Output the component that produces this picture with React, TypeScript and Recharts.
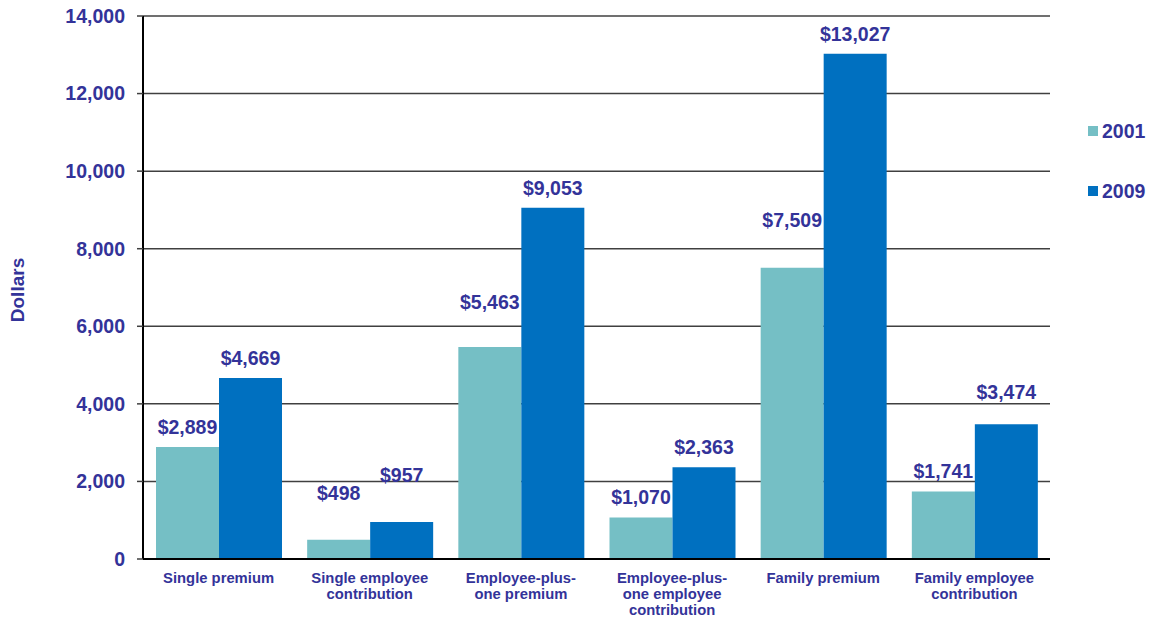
import { BarChart, Bar, XAxis, YAxis, CartesianGrid, LabelList, Legend } from "recharts";

// Categories (line breaks mark the wrapped tick labels)
const categories = [
  "Single premium",
  "Single employee\ncontribution",
  "Employee-plus-\none premium",
  "Employee-plus-\none employee\ncontribution",
  "Family premium",
  "Family employee\ncontribution",
];
const values2001 = [2889, 498, 5463, 1070, 7509, 1741];
const values2009 = [4669, 957, 9053, 2363, 13027, 3474];
const yTicks = [0, 2000, 4000, 6000, 8000, 10000, 12000, 14000];

const TEXT = "#333399";
const TEAL = "#75BFC5";
const BLUE = "#0070C0";
const FONT = "'Liberation Sans', Arial, sans-serif";

// extra lift for labels that sit higher in the original
const labelLift: Record<string, number[]> = {
  y2001: [0, 27, 25, 0, 28, 0],
  y2009: [0, 27, 0, 0, 0, 12],
};

const data = categories.map((name, i) => ({
  name,
  y2001: values2001[i],
  y2009: values2009[i],
}));

const CategoryTick = ({ x, y, payload }: any) => {
  const lines = String(payload.value).split("\n");
  return (
    <text x={x} y={y} textAnchor="middle" fill={TEXT} fontSize={14.8} fontWeight="bold" fontFamily={FONT}>
      {lines.map((l, i) => (
        <tspan key={i} x={x} dy={i === 0 ? 22 : 16}>
          {l}
        </tspan>
      ))}
    </text>
  );
};

const valueLabel = (key: string) => (props: any) => {
  const { x, y, width, value, index } = props;
  const lift = labelLift[key][index] ?? 0;
  return (
    <text
      x={x + width / 2}
      y={y - 13 - lift}
      textAnchor="middle"
      fill={TEXT}
      fontSize={19.5}
      fontWeight="bold"
      fontFamily={FONT}
    >
      ${Number(value).toLocaleString("en-US")}
    </text>
  );
};

const LegendBox = () => (
  <div style={{ display: "flex", flexDirection: "column", gap: 38, fontFamily: FONT }}>
    {[
      { label: "2001", color: TEAL },
      { label: "2009", color: BLUE },
    ].map((it) => (
      <div key={it.label} style={{ display: "flex", alignItems: "center", gap: 4 }}>
        <span style={{ width: 10, height: 10, background: it.color, display: "inline-block" }} />
        <span style={{ color: TEXT, fontSize: 19.5, fontWeight: "bold", lineHeight: "22px" }}>{it.label}</span>
      </div>
    ))}
  </div>
);

const DollarsLabel = () => (
  <text
    transform="translate(24,290) rotate(-90)"
    textAnchor="middle"
    fill={TEXT}
    fontSize={19}
    fontWeight="bold"
    fontFamily={FONT}
  >
    Dollars
  </text>
);

export default function App() {
  return (
    <div style={{ position: "absolute", left: 0, top: 0, background: "#fff" }}>
      <BarChart
        width={1151}
        height={618}
        data={data}
        margin={{ top: 16, right: 101, bottom: 0, left: 0 }}
        barGap={0}
        barSize={63}
      >
        <CartesianGrid horizontal vertical={false} stroke="#404040" strokeWidth={1.5} />
        <XAxis
          dataKey="name"
          height={59}
          tick={<CategoryTick />}
          tickLine={false}
          tickSize={0}
          interval={0}
          axisLine={{ stroke: "#000", strokeWidth: 2 }}
        />
        <YAxis
          width={143}
          domain={[0, 14000]}
          ticks={yTicks}
          tickFormatter={(v: number) => v.toLocaleString("en-US")}
          tick={{ fill: TEXT, fontSize: 19.5, fontWeight: "bold", fontFamily: FONT }}
          tickLine={{ stroke: "#404040", strokeWidth: 1.5 }}
          tickSize={6}
          tickMargin={12}
          axisLine={{ stroke: "#000", strokeWidth: 2 }}
          label={<DollarsLabel />}
        />
        <YAxis
          yAxisId="frame"
          orientation="right"
          width={0}
          tick={false}
          tickLine={false}
          axisLine={{ stroke: "#000", strokeWidth: 2 }}
        />
        <Legend
          layout="vertical"
          align="center"
          verticalAlign="middle"
          content={<LegendBox />}
          wrapperStyle={{ position: "absolute", left: 1088, top: 120, width: 70 }}
        />
        <Bar dataKey="y2001" fill={TEAL} isAnimationActive={false}>
          <LabelList dataKey="y2001" content={valueLabel("y2001")} />
        </Bar>
        <Bar dataKey="y2009" fill={BLUE} isAnimationActive={false}>
          <LabelList dataKey="y2009" content={valueLabel("y2009")} />
        </Bar>
      </BarChart>
    </div>
  );
}
